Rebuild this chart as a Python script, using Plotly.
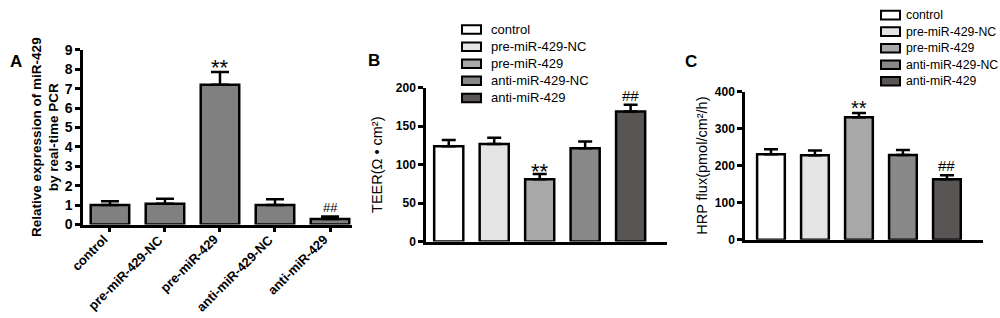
import plotly.graph_objects as go

categories = ["control", "pre-miR-429-NC", "pre-miR-429", "anti-miR-429-NC", "anti-miR-429"]

# Panel A: relative expression
a_values = [1.0, 1.07, 7.2, 1.0, 0.28]
a_errors = [0.2, 0.26, 0.65, 0.3, 0.14]
a_marks = ["", "", "**", "", "##"]

# Panel B: TEER
b_values = [124, 127, 81, 121.5, 169]
b_errors = [8, 8, 7, 8.5, 9]
b_marks = ["", "", "**", "", "##"]

# Panel C: HRP flux
c_values = [231, 228, 331, 229, 163]
c_errors = [13, 13, 11, 13, 11]
c_marks = ["", "", "**", "", "##"]

colors = ["#ffffff", "#e4e4e4", "#a8a8a8", "#888888", "#595555"]
a_color = "#808080"

FONT = "Liberation Sans, Arial, sans-serif"
W, H = 1000, 318
fig = go.Figure()


def px(x):
    return x / W


def py(y):
    return 1 - y / H


# Panel A (single colour bars)
fig.add_trace(go.Bar(
    x=list(range(len(categories))), y=a_values, width=0.7,
    marker=dict(color=a_color, line=dict(color="black", width=2.5)),
    error_y=dict(type="data", symmetric=False, array=a_errors,
                 arrayminus=[0] * len(a_errors), color="black", thickness=2.5, width=9),
    showlegend=False, xaxis="x", yaxis="y",
))

for i, cat in enumerate(categories):
    fig.add_trace(go.Bar(
        x=[i], y=[b_values[i]], width=0.64, name=cat, showlegend=False,
        marker=dict(color=colors[i], line=dict(color="black", width=2.5)),
        error_y=dict(type="data", symmetric=False, array=[b_errors[i]],
                     arrayminus=[0], color="black", thickness=2.5, width=7),
        xaxis="x2", yaxis="y2",
    ))
for i, cat in enumerate(categories):
    fig.add_trace(go.Bar(
        x=[i], y=[c_values[i]], width=0.63, name=cat, showlegend=False,
        marker=dict(color=colors[i], line=dict(color="black", width=2.5)),
        error_y=dict(type="data", symmetric=False, array=[c_errors[i]],
                     arrayminus=[0], color="black", thickness=2.5, width=7),
        xaxis="x3", yaxis="y3",
    ))

annotations = []
for xref, yref, vals, errs, marks, star, hashs, sshift in [
        ("x", "y", a_values, a_errors, a_marks, 22, 13, -10),
        ("x2", "y2", b_values, b_errors, b_marks, 22, 15, -12),
        ("x3", "y3", c_values, c_errors, c_marks, 20, 15, -8)]:
    for i, m in enumerate(marks):
        if not m:
            continue
        big = m == "**"
        annotations.append(dict(
            x=i, y=vals[i] + errs[i], xref=xref, yref=yref, text=m, showarrow=False,
            yanchor="bottom", yshift=sshift if big else -1,
            font=dict(family=FONT, size=star if big else hashs, color="black"),
        ))

# Rotated category labels for panel A
for i, cat in enumerate(categories):
    annotations.append(dict(
        x=i, y=py(233), xref="x", yref="paper", text="<b>%s</b>" % cat,
        showarrow=False, textangle=-45, xanchor="right", yanchor="top", xshift=4,
        font=dict(family=FONT, size=13, color="black"),
    ))

for txt, x, y in [("A", 8, 44), ("B", 374, 43), ("C", 699, 44)]:
    annotations.append(dict(x=px(x), y=py(y), xref="paper", yref="paper",
                            text="<b>%s</b>" % txt, showarrow=False,
                            font=dict(family=FONT, size=17, color="black")))

# Legends (drawn for panels B and C)
shapes = []
for (ix0, ix1, tx, y0, dy, fs) in [(462, 481, 489, 22.7, 18.0, 13),
                                   (881, 900, 904, 7.5, 17.4, 12.3)]:
    for i, cat in enumerate(categories):
        yc = y0 + dy * i
        shapes.append(dict(type="rect", xref="paper", yref="paper",
                           x0=px(ix0), x1=px(ix1), y0=py(yc + 4.5), y1=py(yc - 4.5),
                           fillcolor=colors[i], line=dict(color="black", width=2)))
        annotations.append(dict(x=px(tx), y=py(yc), xref="paper", yref="paper",
                                xanchor="left", yanchor="middle", text=cat,
                                showarrow=False,
                                font=dict(family=FONT, size=fs, color="black")))

axis_common = dict(showline=True, linecolor="black", linewidth=2.5, showgrid=False,
                   zeroline=False, ticks="outside", tickwidth=2.5, ticklen=5,
                   tickcolor="black")


def bold(s):
    return dict(family=FONT, size=s, color="black", weight="bold")


fig.update_layout(
    width=W, height=H, margin=dict(l=0, r=0, t=0, b=0),
    paper_bgcolor="white", plot_bgcolor="white", barmode="overlay",
    font=dict(family=FONT, color="black"),
    annotations=annotations, shapes=shapes,
    xaxis=dict(domain=[px(83), px(352)], range=[-0.49, 4.4], tickmode="array",
               tickvals=list(range(5)), showticklabels=False,
               anchor="y", **axis_common),
    yaxis=dict(domain=[py(228), py(44)], range=[0, 9], dtick=1, anchor="x",
               tickfont=bold(14),
               title=dict(text="Relative expression of miR-429<br>by real-time PCR",
                          font=bold(13.5), standoff=3),
               **axis_common),
    xaxis2=dict(domain=[px(426), px(667)], range=[-0.5, 4.8], showticklabels=False,
                anchor="y2", **{**axis_common, "ticks": ""}),
    yaxis2=dict(domain=[py(246), py(84)], range=[0, 200], dtick=50, anchor="x2",
                tickfont=bold(12),
                title=dict(text="TEER(Ω • cm²)", font=dict(family=FONT, size=14.5),
                           standoff=10),
                **axis_common),
    xaxis3=dict(domain=[px(745), px(983)], range=[-0.59, 4.82], showticklabels=False,
                anchor="y3", **{**axis_common, "ticks": ""}),
    yaxis3=dict(domain=[py(244), py(88)], range=[0, 400], dtick=100, anchor="x3",
                tickfont=bold(12),
                title=dict(text="HRP flux(pmol/cm²/h)", font=dict(family=FONT, size=14.5),
                           standoff=4),
                **axis_common),
)

fig.write_html("out.html", config={"displayModeBar": False},
               post_script="document.body.style.margin='0px';")
